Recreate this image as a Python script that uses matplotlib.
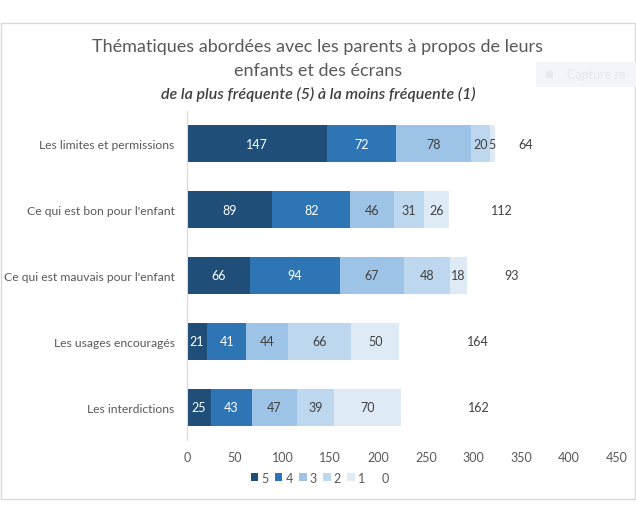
import numpy as np
import matplotlib.pyplot as plt
from matplotlib.patches import Rectangle

plt.rcParams['font.family'] = ['Lato', 'DejaVu Sans']

categories = ['Les interdictions', 'Les usages encouragés', "Ce qui est mauvais pour l'enfant",
              "Ce qui est bon pour l'enfant", 'Les limites et permissions']
series_names = ['5', '4', '3', '2', '1', '0']
s5 = [25, 21, 66, 89, 147]
s4 = [43, 41, 94, 82, 72]
s3 = [47, 44, 67, 46, 78]
s2 = [39, 66, 48, 31, 20]
s1 = [70, 50, 18, 26, 5]
s0 = [162, 164, 93, 112, 64]
xticks = [0, 50, 100, 150, 200, 250, 300, 350, 400, 450]

colors = ['#1f4e79', '#2e75b6', '#9dc3e6', '#bdd7ee', '#deebf7', 'none']
label_colors = ['white', 'white', '#404040', '#404040', '#404040', '#404040']
grey = '#595959'

fig = plt.figure(figsize=(6.36, 5.06), dpi=100)
fig.patches.append(Rectangle((0.002, 1 - 500 / 506), 0.996, 476 / 506, transform=fig.transFigure,
                             fill=False, edgecolor='#d9d9d9', linewidth=1))

ax = fig.add_axes([187 / 636, 1 - 441 / 506, 430 / 636, 329 / 506])
y = np.arange(len(categories))
left = np.zeros(len(categories))
for vals, name, c, lc in zip([s5, s4, s3, s2, s1, s0], series_names, colors, label_colors):
    vals = np.array(vals)
    bars = ax.barh(y, vals, left=left, height=0.56, color=c, label=name, edgecolor='none')
    for b, v in zip(bars, vals):
        ax.text(b.get_x() + b.get_width() / 2, b.get_y() + b.get_height() / 2, str(v),
                ha='center', va='center', fontsize=9, color=lc)
    left += vals

ax.set_xlim(0, 450)
ax.set_ylim(-0.5, 4.5)
ax.set_xticks(xticks)
ax.set_yticks(y)
ax.set_yticklabels(categories)
ax.tick_params(axis='x', length=0, colors=grey, labelsize=9, pad=8)
ax.tick_params(axis='y', length=0, colors=grey, labelsize=8.7, pad=9)
for s in ['top', 'right', 'bottom']:
    ax.spines[s].set_visible(False)
ax.spines['left'].set_color('#d9d9d9')

leg = ax.legend(loc='center', bbox_to_anchor=(133 / 430, -37 / 329 - 0.002), ncol=6, frameon=False,
                fontsize=9, handlelength=0.6, handleheight=0.6, handletextpad=0.25, columnspacing=0.5)
for t in leg.get_texts():
    t.set_color(grey)
leg.legend_handles[5].set_edgecolor('none')

fig.text(0.5, 1 - 47 / 506, 'Thématiques abordées avec les parents à propos de leurs',
         ha='center', va='center', fontsize=13, color=grey)
fig.text(0.5, 1 - 71 / 506, 'enfants et des écrans', ha='center', va='center', fontsize=13, color=grey)
fig.text(0.5, 1 - 94 / 506, 'de la plus fréquente (5) à la moins fréquente (1)',
         ha='center', va='center', fontsize=11.5, style='italic', weight='semibold', color='#404040')

# faint screenshot overlay
fig.patches.append(Rectangle((536 / 636, 1 - 88 / 506), 100 / 636, 25 / 506, transform=fig.transFigure,
                             facecolor='#f2f6fb', edgecolor='none'))
fig.patches.append(Rectangle((546 / 636, 1 - 79 / 506), 7 / 636, 7 / 506, transform=fig.transFigure,
                             facecolor='#e6ebf1', edgecolor='none'))
fig.text(567 / 636, 1 - 75 / 506, 'Capture re', ha='left', va='center',
         fontsize=9, color='#e3e8ee')

fig.savefig('out.png', dpi=100, facecolor='white')
